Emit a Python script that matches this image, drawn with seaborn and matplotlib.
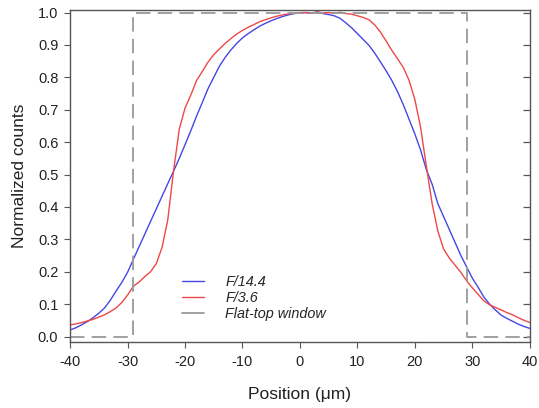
import numpy as np
import pandas as pd
import matplotlib
matplotlib.use("Agg")
import matplotlib.pyplot as plt
import seaborn as sns
from matplotlib.lines import Line2D

position = list(range(-40, 41))

f14_counts = [
    0.020, 0.027, 0.036, 0.046, 0.058, 0.072, 0.088, 0.112, 0.140, 0.167,
    0.198, 0.238, 0.277, 0.316, 0.355, 0.394, 0.433, 0.472, 0.510, 0.550,
    0.592, 0.635, 0.680, 0.722, 0.765, 0.800, 0.835, 0.862, 0.885, 0.905,
    0.922, 0.935, 0.947, 0.958, 0.967, 0.975, 0.982, 0.988, 0.993, 0.997,
    0.999, 1.000, 0.998, 1.002, 0.997, 0.994, 0.990, 0.982, 0.968, 0.953,
    0.935, 0.917, 0.899, 0.875, 0.848, 0.820, 0.790, 0.755, 0.715, 0.670,
    0.625, 0.575, 0.515, 0.470, 0.410, 0.370, 0.330, 0.290, 0.250, 0.215,
    0.180, 0.152, 0.122, 0.100, 0.082, 0.066, 0.056, 0.047, 0.038, 0.031,
    0.025,
]

f36_counts = [
    0.036, 0.039, 0.043, 0.048, 0.053, 0.060, 0.067, 0.077, 0.088, 0.105,
    0.128, 0.155, 0.168, 0.185, 0.200, 0.225, 0.275, 0.360, 0.510, 0.640,
    0.705, 0.745, 0.790, 0.818, 0.847, 0.870, 0.888, 0.905, 0.920, 0.934,
    0.945, 0.955, 0.963, 0.972, 0.978, 0.984, 0.989, 0.993, 0.996, 0.998,
    1.000, 1.000, 0.998, 1.002, 0.999, 1.000, 0.998, 1.001, 0.997, 0.995,
    0.990, 0.985, 0.978, 0.962, 0.940, 0.912, 0.883, 0.857, 0.830, 0.790,
    0.731, 0.645, 0.525, 0.410, 0.325, 0.270, 0.242, 0.220, 0.198, 0.172,
    0.150, 0.130, 0.110, 0.098, 0.090, 0.082, 0.074, 0.067, 0.058, 0.050,
    0.043,
]

window_x = [-40, -29, -29, 29, 29, 40]
window_y = [0.0, 0.0, 1.0, 1.0, 0.0, 0.0]

series_labels = ["F/14.4", "F/3.6", "Flat-top window"]
x_ticks = [-40, -30, -20, -10, 0, 10, 20, 30, 40]
y_ticks = [0.0, 0.1, 0.2, 0.3, 0.4, 0.5, 0.6, 0.7, 0.8, 0.9, 1.0]

BLUE = "#4646e4"
RED = "#ee4848"
GRAY = "#9a9a9a"

sns.set_theme(style="white")
plt.rcParams["font.family"] = ["Liberation Sans", "DejaVu Sans"]

df = pd.DataFrame({
    "Position": position * 2,
    "Counts": f14_counts + f36_counts,
    "Series": [series_labels[0]] * len(position) + [series_labels[1]] * len(position),
})

fig = plt.figure(figsize=(5.39, 4.08), dpi=100)
ax = fig.add_axes([0.130, 0.1625, 0.853, 0.813])

sns.lineplot(data=df, x="Position", y="Counts", hue="Series",
             palette={series_labels[0]: BLUE, series_labels[1]: RED},
             linewidth=1.0, ax=ax, legend=False, sort=False)
sns.lineplot(x=window_x, y=window_y, color=GRAY, linewidth=1.3,
             ax=ax, sort=False, estimator=None)
ax.lines[-1].set_dashes([8, 4])

ax.set_xlim(-40, 40)
ax.set_ylim(-0.016, 1.008)
ax.set_xticks(x_ticks)
ax.set_xticklabels([str(t) for t in x_ticks])
ax.set_yticks(y_ticks)
ax.set_yticklabels([f"{t:.1f}" for t in y_ticks])

for s in ax.spines.values():
    s.set_color("#555555")
    s.set_linewidth(1.0)
ax.tick_params(axis="both", which="both", direction="out", length=4.5, width=0.8,
               color="#555555", labelsize=10.5, labelcolor="#222222", pad=4,
               bottom=True, left=True, right=False, top=False)
ax.tick_params(axis="x", pad=5)
axr = ax.secondary_yaxis("right")
axr.set_yticks(y_ticks)
axr.tick_params(direction="in", length=5, width=0.9, color="#555555", labelright=False)
axr.spines["right"].set_visible(False)

ax.set_xlabel("Position (\u03bcm)", fontsize=12.5, color="#222222", labelpad=13)
ax.set_ylabel("Normalized counts", fontsize=12.5, color="#222222", labelpad=8)

handles = [
    Line2D([], [], color=BLUE, lw=1.0),
    Line2D([], [], color=RED, lw=1.0),
    Line2D([], [], color=GRAY, lw=1.3),
]
leg = ax.legend(handles, series_labels, loc="upper left", bbox_to_anchor=(0.215, 0.24),
                frameon=False, handlelength=1.5, handletextpad=1.5, labelspacing=0.15,
                prop={"style": "italic", "size": 10.4})

fig.savefig("out.png", dpi=100)
